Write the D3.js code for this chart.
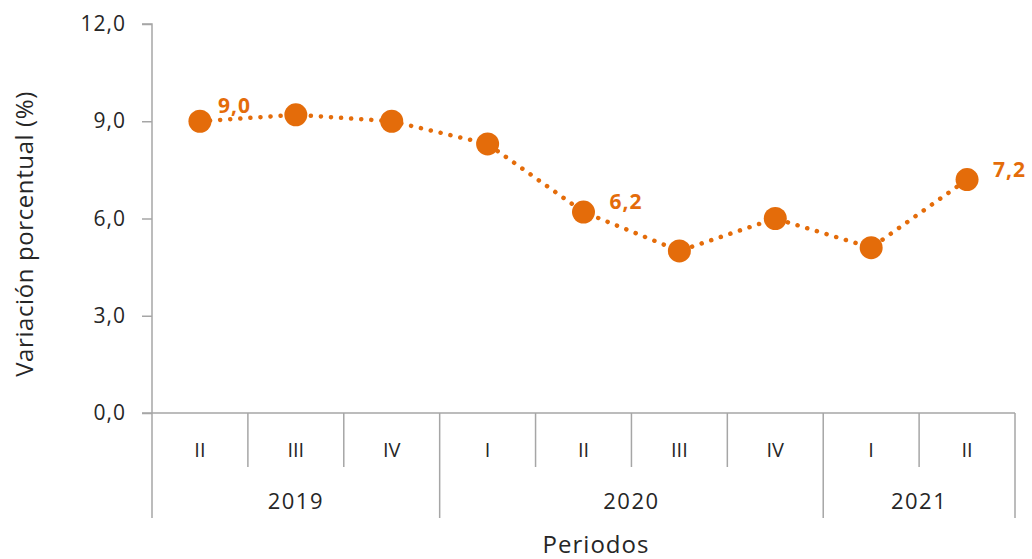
<!DOCTYPE html>
<html><head><meta charset="utf-8">
<script src="https://cdn.jsdelivr.net/npm/d3@7"></script>
<style>body{margin:0;background:#fff}svg{display:block}text{font-family:"Open Sans","Noto Sans",sans-serif}</style>
</head><body><svg id="c" width="1032" height="559"></svg>
<script>
const quarters = ["II","III","IV","I","II","III","IV","I","II"];
const years = [{label:"2019",n:3},{label:"2020",n:4},{label:"2021",n:2}];
const values = [9.0, 9.2, 9.0, 8.3, 6.2, 5.0, 6.0, 5.1, 7.2];
const labeled = [0, 4, 8];
const yTicks = [0, 3, 6, 9, 12];

const svg = d3.select("#c");
const L = 152, R = 1015, T = 24, B = 413;
const orange = "#E46C0A", grey = "#A6A6A6", ink = "#262626";
const x = d3.scaleBand().domain(d3.range(quarters.length)).range([L, R]);
const y = d3.scaleLinear().domain([0, 12]).range([B, T]);
const fmt = v => d3.format(".1f")(v).replace(".", ",");

// y axis
const ya = svg.append("g").attr("transform", `translate(${L},0)`)
  .call(d3.axisLeft(y).tickValues(yTicks).tickFormat(fmt).tickSize(10).tickPadding(16));
ya.select(".domain").attr("stroke", grey).attr("stroke-width", 1.5).attr("d", `M-10,${T}H0V${B}`);
ya.selectAll(".tick line").attr("stroke", grey).attr("stroke-width", 1.5);
ya.selectAll(".tick text").attr("font-size", 21).attr("fill", ink)
  .attr("letter-spacing", 1).attr("font-family", '"Open Sans",sans-serif');

// x axis baseline
svg.append("line").attr("x1", L - 10).attr("x2", R).attr("y1", B).attr("y2", B)
  .attr("stroke", grey).attr("stroke-width", 1.5);
const bounds = d3.range(quarters.length + 1).map(i => i < quarters.length ? x(i) : R);
let yearBounds = [0]; years.reduce((a, yy) => { a += yy.n; yearBounds.push(a); return a; }, 0);
bounds.forEach((bx, i) => {
  const isYear = yearBounds.includes(i);
  svg.append("line").attr("x1", bx).attr("x2", bx).attr("y1", B).attr("y2", isYear ? 518 : 467)
    .attr("stroke", grey).attr("stroke-width", 1.5);
});
svg.selectAll(".q").data(quarters).join("text")
  .attr("x", (d, i) => x(i) + x.bandwidth() / 2).attr("y", 457)
  .attr("text-anchor", "middle").attr("font-size", 20).attr("fill", ink).text(d => d);
svg.selectAll(".yr").data(years).join("text")
  .attr("x", (d, i) => (bounds[yearBounds[i]] + bounds[yearBounds[i + 1]]) / 2).attr("y", 509)
  .attr("text-anchor", "middle").attr("font-size", 22).attr("letter-spacing", 1.5).attr("fill", ink).text(d => d.label);

// titles
svg.append("text").attr("x", 596).attr("y", 553).attr("text-anchor", "middle")
  .attr("font-size", 24).attr("letter-spacing", 1).attr("fill", ink).text("Periodos");
svg.append("text").attr("transform", `translate(33,234) rotate(-90)`)
  .attr("text-anchor", "middle").attr("font-size", 24).attr("letter-spacing", 0.6).attr("fill", ink).text("Variación porcentual (%)");

// line
const cx = i => x(i) + x.bandwidth() / 2;
svg.append("path").datum(values)
  .attr("d", d3.line().x((d, i) => cx(i)).y(d => y(d)))
  .attr("fill", "none").attr("stroke", orange).attr("stroke-width", 4.5)
  .attr("stroke-linecap", "round").attr("stroke-dasharray", "0.1 10");
svg.selectAll(".pt").data(values).join("circle")
  .attr("cx", (d, i) => cx(i)).attr("cy", d => y(d)).attr("r", 11.5).attr("fill", orange);
const lblOff = [[18, -8], [26, -3], [26, -3]];
svg.selectAll(".lbl").data(labeled).join("text")
  .attr("x", (i, k) => cx(i) + lblOff[k][0]).attr("y", (i, k) => y(values[i]) + lblOff[k][1])
  .attr("font-size", 21).attr("font-weight", "bold").attr("letter-spacing", 1)
  .attr("fill", orange).text(i => fmt(values[i]));
</script></body></html>
